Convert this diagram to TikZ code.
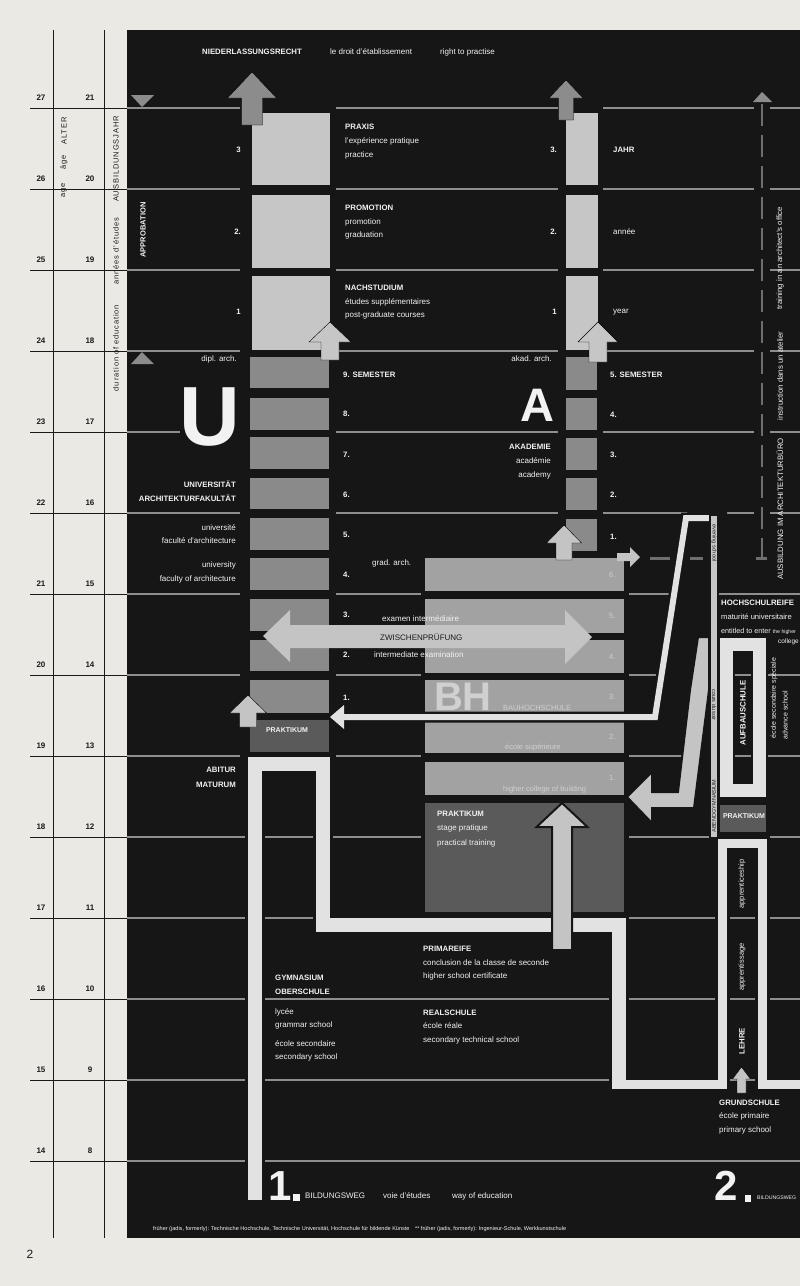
\documentclass[tikz,border=0pt]{standalone}
\usepackage{fontspec}
\setmainfont{Liberation Sans}
\usepackage{graphicx}
\definecolor{paper}{HTML}{EBE9E4}
\definecolor{panel}{HTML}{161616}
\definecolor{gridc}{HTML}{8E8E8E}
\definecolor{boxlt}{HTML}{C6C6C6}
\definecolor{boxmd}{HTML}{8A8A8A}
\definecolor{boxbh}{HTML}{A2A2A2}
\definecolor{boxdk}{HTML}{5A5A5A}
\definecolor{arrgr}{HTML}{8C8C8C}
\definecolor{arrlt}{HTML}{C4C4C4}
\definecolor{pathw}{HTML}{E2E2E2}
\definecolor{txtw}{HTML}{F2F2F2}
\definecolor{txtf}{HTML}{D0D0D0}
\definecolor{ink}{HTML}{1A1A1A}
\definecolor{dashc}{HTML}{6E6E6E}
\newcommand{\myuparrow}[7]{\filldraw[#1] ({#2-#6},#5) -- ({#2-#6},#4) -- ({#2-#7},#4) -- (#2,#3) -- ({#2+#7},#4) -- ({#2+#6},#4) -- ({#2+#6},#5) -- cycle;}
\tikzset{
  wt/.style={text=txtw, inner sep=0pt, font=\fontsize{8}{9.6}\selectfont},
  wb/.style={text=txtw, inner sep=0pt, font=\bfseries\fontsize{7.8}{9.4}\selectfont},
  axt/.style={text=ink, inner sep=0pt, rotate=90, font=\fontsize{7.5}{9}\selectfont\addfontfeature{LetterSpace=12}},
  numl/.style={text=ink, inner sep=0pt, font=\bfseries\fontsize{8}{9.6}\selectfont},
  ft/.style={text=txtf, inner sep=0pt, font=\fontsize{7.5}{9}\selectfont},
  dk/.style={text=ink, inner sep=0pt, font=\fontsize{5.5}{6}\selectfont},
  gridline/.style={draw=gridc, line width=1.8pt},
  axisline/.style={draw=ink, line width=1pt},
  knock/.style={fill=panel},
}
\begin{document}
\begin{tikzpicture}[x=1pt,y=-1pt]
\useasboundingbox (0,0) rectangle (800,1286);
\clip (0,0) rectangle (800,1286);
\fill[paper] (0,0) rectangle (800,1286);
\fill[panel] (127,30) rectangle (800,1238);
% left axis
\draw[axisline] (53,30) -- (53,1238);
\draw[axisline] (104,30) -- (104,1238);
\foreach \a/\b/\y in {27/21/108, 26/20/189, 25/19/270, 24/18/351, 23/17/432, 22/16/513, 21/15/594, 20/14/675, 19/13/756, 18/12/837, 17/11/918, 16/10/999, 15/9/1080, 14/8/1161}{
  \draw[axisline] (30,\y) -- (127,\y);
  \draw[gridline] (127,\y) -- (800,\y);
  \node[numl] (agea\a) at (41,\y-10) {\a};
  \node[numl] (ageb\a) at (90,\y-10) {\b};
}
\node[axt] (al1) at (64,131) {ALTER};
\node[axt] (al2) at (64,162) {âge};
\node[axt] (al3) at (64,190) {age};
\node[axt] (dl1) at (116,159) {AUSBILDUNGSJAHR};
\node[axt] (dl2) at (116,251) {années d'études};
\node[axt] (dl3) at (116,348) {duration of education};
% knockouts
\fill[knock] (240,100) rectangle (336,760);
\fill[knock] (558,100) rectangle (603,556);
\fill[knock] (421,553) rectangle (629,916);
\fill[knock] (180,383) rectangle (241,452);
\fill[knock] (754,100) rectangle (770,562);
\fill[knock] (656,716) -- (688,508) -- (727,508) -- (727,522) -- (712,522) -- (712,800) -- (690,800) -- (690,716) -- cycle;
% triangles
\fill[arrgr] (131,95) -- (154,95) -- (142,107) -- cycle;
\fill[arrgr] (131,364) -- (154,364) -- (142,352) -- cycle;
% U column boxes
\fill[boxlt] (252,113) rectangle (330,185);
\fill[boxlt] (252,195) rectangle (330,268);
\fill[boxlt] (252,276) rectangle (330,350);
\foreach \t/\b in {357/388, 398/430, 437/469, 478/509, 518/550, 558/590, 599/631, 640/671, 680/713}
  \fill[boxmd] (250,\t) rectangle (329,\b);
\fill[boxdk] (250,720) rectangle (329,752);
% A column boxes
\fill[boxlt] (566,113) rectangle (598,185);
\fill[boxlt] (566,195) rectangle (598,268);
\fill[boxlt] (566,276) rectangle (598,350);
\foreach \t/\b in {357/390, 398/430, 438/470, 478/510, 519/551}
  \fill[boxmd] (566,\t) rectangle (597,\b);
% BH boxes
\foreach \t/\b in {558/591, 599/633, 640/673, 680/713, 720/753, 762/795}
  \fill[boxbh] (425,\t) rectangle (624,\b);
\fill[boxdk] (425,803) rectangle (624,912);
% first way path
\draw[panel, line width=20pt] (255,1200) -- (255,764) -- (323,764) -- (323,925) -- (619,925) -- (619,1088);
\draw[panel, line width=15pt] (612,1084) -- (722.5,1084) -- (722.5,843.5) -- (762.5,843.5) -- (762.5,1084) -- (805,1084);
\draw[pathw, line width=14pt, line join=miter] (255,1200) -- (255,764) -- (323,764) -- (323,925) -- (619,925) -- (619,1088.5);
\draw[pathw, line width=9pt, line join=miter] (612,1084) -- (722.5,1084) -- (722.5,843.5) -- (762.5,843.5) -- (762.5,1084) -- (805,1084);
% Aufbauschule
\draw[panel, line width=17pt] (726.5,644) rectangle (759,790);
\draw[pathw, line width=13pt] (726.5,644) rectangle (759,790);
\fill[boxdk] (720,805) rectangle (766,832);
% evening path
\draw[panel, line width=11pt] (343,717) -- (655,717) -- (686,518) -- (714,518);
\draw[pathw, line width=6pt, line join=miter] (343,717) -- (655,717) -- (686,518) -- (714,518);
\fill[pathw] (344,705) -- (330,717) -- (344,729) -- cycle;
% big band arrow
\filldraw[fill=arrlt, draw=panel, line width=2pt] (698,637) -- (709,637) -- (709,690) -- (694,808) -- (652,808) -- (652,823) -- (627,797) -- (652,772) -- (652,792) -- (678,792) -- (690,690) -- cycle;
\filldraw[fill=boxlt, draw=panel, line width=2pt] (710,515) rectangle (718,838);
% gray top arrows
\myuparrow{fill=arrgr}{252}{72}{98}{125}{10.5}{24.5}
\myuparrow{fill=arrgr}{566}{80}{98}{120}{7.5}{17}
\fill[arrgr] (753,102) -- (762,92) -- (772,102) -- cycle;
\draw[dashc, line width=2.5pt, dash pattern=on 22pt off 9pt] (762,104) -- (762,560);
% light arrows
\myuparrow{fill=boxlt}{330}{322}{342}{360}{9}{21}
\myuparrow{fill=boxlt}{598}{322}{342}{362}{9}{20}
\myuparrow{fill=arrlt}{248}{695}{713}{727}{8.5}{18.5}
\myuparrow{fill=arrlt}{564}{525}{543}{560}{8}{17.5}
\myuparrow{fill=arrlt, draw=panel, line width=2pt}{562}{803}{827}{950}{10}{25.5}
\myuparrow{fill=arrlt}{741.5}{1067}{1079}{1093}{4.5}{9}
\fill[arrlt] (617,553) -- (630,553) -- (630,547) -- (640,557) -- (630,567) -- (630,561) -- (617,561) -- cycle;
\foreach \s/\e in {650/670, 690/703, 756/767}
  \draw[dashc, line width=3pt] (\s,558) -- (\e,558);
% double arrow
\fill[arrlt] (263,636) -- (290,610) -- (290,625) -- (565,625) -- (565,610) -- (592,637) -- (565,664) -- (565,648) -- (290,648) -- (290,662) -- cycle;
% ---------- texts ----------
\node[wb, anchor=west] (t1) at (202,52) {NIEDERLASSUNGSRECHT};
\node[wt, anchor=west] (t2) at (330,52) {le droit d'établissement};
\node[wt, anchor=west] (t3) at (440,52) {right to practise};
\node[wb, rotate=90, font=\bfseries\fontsize{7.5}{9}\selectfont] (appr) at (143,230) {APPROBATION};
% U column
\node[wb, anchor=east] (u3) at (241,150) {3};
\node[wb, anchor=east] (u2) at (241,232) {2.};
\node[wb, anchor=east] (u1) at (241,312) {1};
\node[wb, anchor=west] (px1) at (345,127) {PRAXIS};
\node[wt, anchor=west] (px2) at (345,141) {l'expérience pratique};
\node[wt, anchor=west] (px3) at (345,155) {practice};
\node[wb, anchor=west] (pr1) at (345,208) {PROMOTION};
\node[wt, anchor=west] (pr2) at (345,222) {promotion};
\node[wt, anchor=west] (pr3) at (345,235) {graduation};
\node[wb, anchor=west] (ns1) at (345,288) {NACHSTUDIUM};
\node[wt, anchor=west] (ns2) at (345,302) {études supplémentaires};
\node[wt, anchor=west] (ns3) at (345,315) {post-graduate courses};
\node[wt, anchor=east] (dipl) at (237,359) {dipl. arch.};
\node[wb, font=\bfseries\fontsize{84}{84}\selectfont] (bigU) at (210,417) {U};
\node[wb, anchor=west] (s9) at (343,375) {9. SEMESTER};
\foreach \n/\y in {8/414, 7/455, 6/495, 5/535, 4/575, 3/615, 2/655, 1/698}
  \node[wb, anchor=west] (us\n) at (343,\y) {\n.};
\node[wb, anchor=east] (uni1) at (236,484) {UNIVERSITÄT};
\node[wb, anchor=east] (uni2) at (236,498) {ARCHITEKTURFAKULTÄT};
\node[wt, anchor=east] (uni3) at (236,528) {université};
\node[wt, anchor=east] (uni4) at (236,541) {faculté d'architecture};
\node[wt, anchor=east] (uni5) at (236,565) {university};
\node[wt, anchor=east] (uni6) at (236,579) {faculty of architecture};
\node[wb, font=\bfseries\fontsize{7}{8}\selectfont] (upk) at (287,730) {PRAKTIKUM};
\node[wb, anchor=east] (abi1) at (236,770) {ABITUR};
\node[wb, anchor=east] (abi2) at (236,785) {MATURUM};
% A column
\node[wb, anchor=east] (a3) at (557,150) {3.};
\node[wb, anchor=east] (a2) at (557,232) {2.};
\node[wb, anchor=east] (a1) at (557,312) {1};
\node[wb, anchor=west] (j1) at (613,150) {JAHR};
\node[wt, anchor=west] (j2) at (613,232) {année};
\node[wt, anchor=west] (j3) at (613,312) {year};
\node[wt, anchor=east] (akad) at (552,359) {akad. arch.};
\node[wb, font=\bfseries\fontsize{47}{47}\selectfont] (bigA) at (537,405) {A};
\node[wb, anchor=west] (as5) at (610,375) {5. SEMESTER};
\foreach \n/\y in {4/415, 3/455, 2/495, 1/537}
  \node[wb, anchor=west] (as\n) at (610,\y) {\n.};
\node[wb, anchor=east] (ak1) at (551,447) {AKADEMIE};
\node[wt, anchor=east] (ak2) at (551,461) {académie};
\node[wt, anchor=east] (ak3) at (551,475) {academy};
% BH
\node[wt, anchor=west] (grad) at (372,563) {grad. arch.};
\foreach \n/\y in {6/575, 5/616, 4/657, 3/697, 2/737, 1/778}
  \node[ft, anchor=west] (bh\n) at (609,\y) {\n.};
\node[wb, text=txtf, font=\bfseries\fontsize{40}{40}\selectfont] (bigBH) at (463,697) {BH};
\node[ft, anchor=west] (bh7) at (503,708) {BAUHOCHSCHULE};
\node[ft, anchor=west] (bh8) at (505,748) {école supérieure};
\node[ft, anchor=west] (bh9) at (503,790) {higher college of building};
\node[wt, anchor=west] (zw1) at (382,619) {examen intermédiaire};
\node[wt, text=ink, anchor=west] (zw2) at (380,637) {ZWISCHENPRÜFUNG};
\node[wt, anchor=west] (zw3) at (374,655) {intermediate examination};
\node[wb, anchor=west] (bp1) at (437,814) {PRAKTIKUM};
\node[wt, anchor=west] (bp2) at (437,828) {stage pratique};
\node[wt, anchor=west] (bp3) at (437,843) {practical training};
% lower texts
\node[wb, anchor=west] (pm1) at (423,949) {PRIMAREIFE};
\node[wt, anchor=west] (pm2) at (423,963) {conclusion de la classe de seconde};
\node[wt, anchor=west] (pm3) at (423,976) {higher school certificate};
\node[wb, anchor=west] (rs1) at (423,1013) {REALSCHULE};
\node[wt, anchor=west] (rs2) at (423,1026) {école réale};
\node[wt, anchor=west] (rs3) at (423,1040) {secondary technical school};
\node[wb, anchor=west] (gy1) at (275,978) {GYMNASIUM};
\node[wb, anchor=west] (gy2) at (275,992) {OBERSCHULE};
\node[wt, anchor=west] (gy3) at (275,1012) {lycée};
\node[wt, anchor=west] (gy4) at (275,1025) {grammar school};
\node[wt, anchor=west] (gy5) at (275,1044) {école secondaire};
\node[wt, anchor=west] (gy6) at (275,1057) {secondary school};
% right side
\node[wt, rotate=90, font=\fontsize{7.8}{9}\selectfont] (ar1) at (780,509) {AUSBILDUNG IM ARCHITEKTURBÜRO};
\node[wt, rotate=90, font=\fontsize{7.8}{9}\selectfont] (ar2) at (780,376) {instruction dans un atelier};
\node[wt, rotate=90, font=\fontsize{7.8}{9}\selectfont] (ar3) at (780,258) {training in an architect's office};
\node[dk, rotate=-90] (ev1) at (714,543) {evening school};
\node[dk, rotate=-90] (ev2) at (714,705) {cours du soir};
\node[dk, rotate=90] (ev3) at (714,806) {ABENDGYMNASIUM};
\node[wb, anchor=west] (hs1) at (721,603) {HOCHSCHULREIFE};
\node[wt, anchor=west, font=\fontsize{7.6}{9}\selectfont] (hs2) at (721,617) {maturité universitaire};
\node[wt, anchor=west, font=\fontsize{7.2}{9}\selectfont] (hs3) at (721,631) {entitled to enter {\fontsize{5.2}{6}\selectfont the higher}};
\node[wt, anchor=east, font=\fontsize{6.5}{8}\selectfont] (hs4) at (799,642) {college};
\node[wb, rotate=90] (aufb) at (743,713) {AUFBAUSCHULE};
\node[wt, rotate=90, font=\fontsize{7}{8}\selectfont] (es1) at (774,698) {école secondaire spéciale};
\node[wt, rotate=90, font=\fontsize{7}{8}\selectfont] (es2) at (785,715) {advance school};
\node[wb, font=\bfseries\fontsize{7}{8}\selectfont] (rpk) at (744,816) {PRAKTIKUM};
\node[wt, rotate=90, font=\fontsize{7.5}{9}\selectfont] (le1) at (742,884) {apprenticeship};
\node[wt, rotate=90, font=\fontsize{7.5}{9}\selectfont] (le2) at (742,967) {apprentissage};
\node[wb, rotate=90] (le3) at (742,1041) {LEHRE};
\node[wb, anchor=west] (gs1) at (719,1103) {GRUNDSCHULE};
\node[wt, anchor=west] (gs2) at (719,1116) {école primaire};
\node[wt, anchor=west] (gs3) at (719,1130) {primary school};
% bottom
\node[wb, anchor=west, font=\bfseries\fontsize{42}{42}\selectfont] (w1) at (268,1186) {1};
\fill[txtw] (293,1194) rectangle (300,1201);
\node[wt, anchor=west] (w1b) at (305,1196) {BILDUNGSWEG};
\node[wt, anchor=west] (w1c) at (383,1196) {voie d'études};
\node[wt, anchor=west] (w1d) at (452,1196) {way of education};
\node[wb, anchor=west, font=\bfseries\fontsize{42}{42}\selectfont] (w2) at (714,1186) {2};
\fill[txtw] (745,1195) rectangle (751,1202);
\node[wt, anchor=west, font=\fontsize{5.2}{6}\selectfont] (w2b) at (757,1198) {BILDUNGSWEG};
\node[wt, anchor=west] (foot) at (153,1229) {\resizebox{413pt}{!}{\fontsize{5}{6}\selectfont früher (jadis, formerly): Technische Hochschule, Technische Universität, Hochschule für bildende Künste\quad ** früher (jadis, formerly): Ingenieur-Schule, Werkkunstschule}};
\node[text=ink, inner sep=0pt, font=\fontsize{12}{14}\selectfont] (pg) at (30,1254) {2};
\end{tikzpicture}
\end{document}
